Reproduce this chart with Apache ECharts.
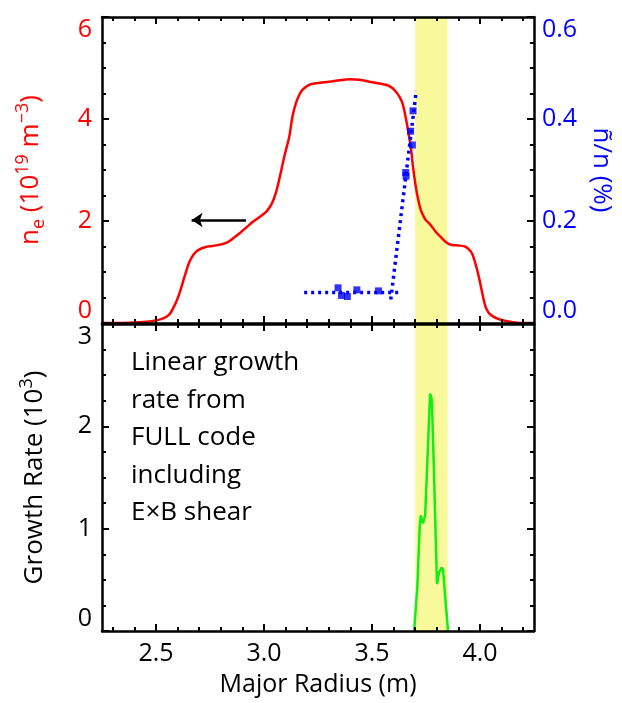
<!DOCTYPE html>
<html>
<head>
<meta charset="utf-8">
<title>Density profile and growth rate</title>
<script src="https://cdn.jsdelivr.net/npm/echarts@6/dist/echarts.min.js"></script>
<style>
  html, body { margin: 0; padding: 0; background: #fff; }
  #chart { width: 622px; height: 703px; }
</style>
</head>
<body>
<div id="chart"></div>
<script>
// electron density profile, ne in 10^19 m^-3
const neR = [2.25, 2.30, 2.40, 2.47, 2.52, 2.56, 2.59, 2.61, 2.635, 2.655, 2.675, 2.695, 2.73, 2.76, 2.80, 2.83, 2.86, 2.89, 2.92, 2.95, 2.98, 3.01, 3.035, 3.055, 3.075, 3.095, 3.117, 3.132, 3.148, 3.163, 3.178, 3.201, 3.225, 3.26, 3.302, 3.35, 3.394, 3.44, 3.502, 3.564, 3.59, 3.61, 3.627, 3.641, 3.653, 3.664, 3.672, 3.68, 3.69, 3.703, 3.715, 3.726, 3.738, 3.749, 3.77, 3.795, 3.82, 3.845, 3.87, 3.90, 3.93, 3.95, 3.965, 3.98, 3.995, 4.01, 4.025, 4.04, 4.06, 4.09, 4.12, 4.16, 4.20, 4.25];
const neVal = [0.0, 0.0, 0.01, 0.03, 0.07, 0.16, 0.38, 0.6, 0.95, 1.2, 1.35, 1.43, 1.49, 1.51, 1.54, 1.58, 1.67, 1.77, 1.88, 1.99, 2.08, 2.18, 2.33, 2.55, 2.9, 3.28, 3.65, 4.05, 4.31, 4.47, 4.57, 4.65, 4.69, 4.71, 4.73, 4.76, 4.78, 4.77, 4.72, 4.67, 4.62, 4.54, 4.44, 4.31, 4.1, 3.85, 3.65, 3.46, 3.06, 2.67, 2.4, 2.22, 2.1, 2.02, 1.93, 1.79, 1.68, 1.58, 1.53, 1.52, 1.50, 1.44, 1.35, 1.15, 0.9, 0.6, 0.33, 0.2, 0.13, 0.07, 0.04, 0.01, 0.0, 0.0];

// density fluctuation level (%), measured points and the two dotted fits
const flucR = [3.343, 3.359, 3.386, 3.430, 3.530, 3.656, 3.658, 3.679, 3.687, 3.690];
const flucVal = [0.069, 0.054, 0.052, 0.065, 0.063, 0.295, 0.288, 0.376, 0.349, 0.416];
const fitFlatR = [3.186, 3.633];
const fitFlatVal = [0.060, 0.060];
const fitRiseR = [3.587, 3.705];
const fitRiseVal = [0.046, 0.455];

// linear growth rate (10^3)
const growthR = [3.695, 3.710, 3.721, 3.726, 3.736, 3.746, 3.756, 3.769, 3.777, 3.787, 3.795, 3.801, 3.810, 3.823, 3.829, 3.841, 3.852];
const growthVal = [0, 0.44, 1.03, 1.13, 1.05, 1.13, 1.64, 2.32, 2.26, 1.55, 0.9, 0.46, 0.57, 0.62, 0.60, 0.28, 0];

// shaded region
const bandR = [3.70, 3.85];

// axis ticks
const xMajorTicks = [2.5, 3.0, 3.5, 4.0];
const xMinorTicks = [2.3, 2.4, 2.6, 2.7, 2.8, 2.9, 3.1, 3.2, 3.3, 3.4, 3.6, 3.7, 3.8, 3.9, 4.1, 4.2];
const annotLines = ['Linear growth', 'rate from', 'FULL code', 'including', 'E×B shear'];

const FONT = 'Open Sans';
const RED = '#ff0000', BLUE = '#0000ff', GREEN = '#11ee11';

const zip = (a, b) => a.map((v, i) => [v, b[i]]);

const chart = echarts.init(document.getElementById('chart'));

// one x axis: major or minor ticks, drawn inward
function xAxisFor(grid, pos, minor, extra) {
  return Object.assign({
    type: 'value', gridIndex: grid, position: pos, min: 2.25, max: 4.25, z: 5,
    axisLine: { show: !minor, onZero: false, lineStyle: { color: '#000', width: 2.5 } },
    axisTick: { show: true, inside: true, length: minor ? 4 : 7,
      customValues: minor ? xMinorTicks : xMajorTicks,
      lineStyle: { color: '#000', width: 2 } },
    axisLabel: { show: false },
    splitLine: { show: false }
  }, extra || {});
}

function yAxisFor(grid, pos, max, interval, color, extra) {
  return Object.assign({
    type: 'value', gridIndex: grid, position: pos, min: 0, max: max, interval: interval, z: 5,
    axisLine: { show: true, onZero: false, lineStyle: { color: '#000', width: 2.5 } },
    axisTick: { show: true, inside: true, length: 7, lineStyle: { color: '#000', width: 2 } },
    minorTick: { show: true, splitNumber: 4, length: 4, lineStyle: { color: '#000', width: 2 } },
    axisLabel: { show: true, color: color, fontSize: 25, fontFamily: FONT, margin: 10,
      verticalAlignMinLabel: 'bottom', verticalAlignMaxLabel: 'top' },
    splitLine: { show: false }
  }, extra || {});
}

const option = {
  animation: false,
  backgroundColor: '#fff',
  grid: [
    { left: 102, top: 17, width: 432, height: 306 },
    { left: 102, top: 324, width: 432, height: 307 }
  ],
  xAxis: [
    xAxisFor(0, 'bottom', false),
    xAxisFor(0, 'bottom', true),
    xAxisFor(0, 'top', false),
    xAxisFor(0, 'top', true),
    xAxisFor(1, 'bottom', false, {
      name: 'Major Radius (m)', nameLocation: 'middle', nameGap: 41,
      nameTextStyle: { color: '#000', fontSize: 25, fontFamily: FONT },
      axisLabel: { show: true, customValues: xMajorTicks, color: '#000', fontSize: 25,
        fontFamily: FONT, margin: 10, formatter: v => v.toFixed(1) }
    }),
    xAxisFor(1, 'bottom', true),
    xAxisFor(1, 'top', false),
    xAxisFor(1, 'top', true)
  ],
  yAxis: [
    yAxisFor(0, 'left', 6, 2, RED, {
      name: '{a|n}{sub|e}{a| (10}{sup|19}{a| m}{sup|−3}{a|)}',
      nameLocation: 'middle', nameRotate: 90, nameGap: 54,
      nameTextStyle: {
        color: RED,
        rich: {
          a: { color: RED, fontSize: 26, fontFamily: FONT, lineHeight: 34 },
          sub: { color: RED, fontSize: 18, fontFamily: FONT, lineHeight: 18, verticalAlign: 'bottom' },
          sup: { color: RED, fontSize: 18, fontFamily: FONT, lineHeight: 18, verticalAlign: 'top' }
        }
      }
    }),
    yAxisFor(0, 'right', 0.6, 0.2, BLUE, {
      axisLabel: { show: true, color: BLUE, fontSize: 25, fontFamily: FONT, margin: 8,
        formatter: v => v.toFixed(1),
        verticalAlignMinLabel: 'bottom', verticalAlignMaxLabel: 'top' },
      name: 'ñ/n (%)', nameLocation: 'middle', nameRotate: -90, nameGap: 53,
      nameTextStyle: { color: BLUE, fontSize: 26, fontFamily: FONT }
    }),
    yAxisFor(1, 'left', 3, 1, '#000', {
      name: '{a|Growth Rate (10}{sup|3}{a|)}',
      nameLocation: 'middle', nameRotate: 90, nameGap: 50,
      nameTextStyle: {
        color: '#000',
        rich: {
          a: { color: '#000', fontSize: 26, fontFamily: FONT, lineHeight: 34 },
          sup: { color: '#000', fontSize: 18, fontFamily: FONT, lineHeight: 18, verticalAlign: 'top' }
        }
      }
    }),
    yAxisFor(1, 'right', 3, 1, '#000', { axisLabel: { show: false } })
  ],
  graphic: [{
    type: 'text', left: 131, top: 344, z: 10,
    style: { text: annotLines.join('\n'), fill: '#000', fontSize: 26, fontFamily: FONT, lineHeight: 37.5 }
  }],
  series: [
    // yellow band, both panels
    {
      type: 'line', xAxisIndex: 0, yAxisIndex: 0, data: [], z: 1, silent: true,
      markArea: { silent: true, itemStyle: { color: '#f7f99b' },
        data: [[{ xAxis: bandR[0] }, { xAxis: bandR[1] }]] }
    },
    {
      type: 'line', xAxisIndex: 4, yAxisIndex: 2, data: [], z: 1, silent: true,
      markArea: { silent: true, itemStyle: { color: '#f7f99b' },
        data: [[{ xAxis: bandR[0] }, { xAxis: bandR[1] }]] }
    },
    {
      name: 'ne', type: 'line', xAxisIndex: 0, yAxisIndex: 0, z: 3,
      data: zip(neR, neVal), smooth: 0.3, showSymbol: false,
      lineStyle: { color: RED, width: 2.5 },
      markLine: {
        silent: true, symbol: ['none', 'arrow'], symbolSize: 11,
        label: { show: false },
        lineStyle: { color: '#000', width: 2.5, type: 'solid' },
        data: [[{ coord: [2.917, 2.02] }, { coord: [2.665, 2.02] }]]
      }
    },
    {
      type: 'line', xAxisIndex: 0, yAxisIndex: 1, z: 3,
      data: zip(fitFlatR, fitFlatVal), showSymbol: false,
      lineStyle: { color: BLUE, width: 3.5, type: [3, 4] }
    },
    {
      type: 'line', xAxisIndex: 0, yAxisIndex: 1, z: 3,
      data: zip(fitRiseR, fitRiseVal), showSymbol: false,
      lineStyle: { color: BLUE, width: 3.5, type: [3, 4] }
    },
    {
      type: 'scatter', xAxisIndex: 0, yAxisIndex: 1, z: 4,
      data: zip(flucR, flucVal), symbol: 'rect', symbolSize: 7,
      itemStyle: { color: BLUE }
    },
    {
      name: 'growth', type: 'line', xAxisIndex: 4, yAxisIndex: 2, z: 3,
      data: zip(growthR, growthVal), showSymbol: false,
      lineStyle: { color: GREEN, width: 2.5 }
    }
  ]
};

chart.setOption(option);
</script>
</body>
</html>
